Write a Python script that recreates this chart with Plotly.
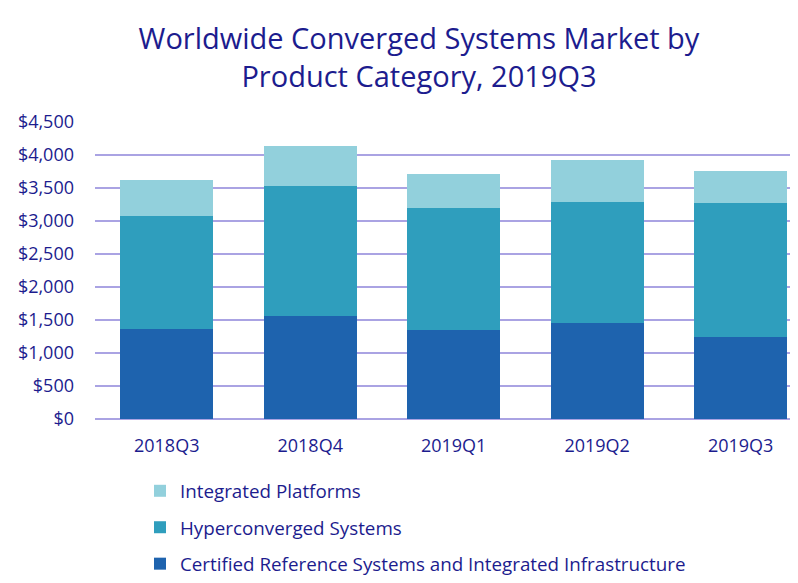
import plotly.graph_objects as go

# quarters on the x axis
quarters = ['2018Q3', '2018Q4', '2019Q1', '2019Q2', '2019Q3']

# revenue per product category ($M)
certified = [1370, 1567, 1355, 1461, 1249]
hyperconverged = [1699, 1957, 1835, 1820, 2017]
integrated = [546, 607, 516, 637, 486]

series_names = ['Certified Reference Systems and Integrated Infrastructure',
                'Hyperconverged Systems',
                'Integrated Platforms']
series_colors = ['#1e63ae', '#2f9ebd', '#92d0dc']
legend_ranks = [3, 2, 1]  # legend lists the top segment first

tick_vals = [0, 500, 1000, 1500, 2000, 2500, 3000, 3500, 4000, 4500]
tick_text = ['$0', '$500', '$1,000', '$1,500', '$2,000', '$2,500',
             '$3,000', '$3,500', '$4,000', '$4,500']

navy = '#1c1c8e'

fig = go.Figure()
for name, vals, col, rank in zip(series_names, [certified, hyperconverged, integrated],
                                 series_colors, legend_ranks):
    fig.add_trace(go.Bar(name=name, x=quarters, y=vals, marker_color=col,
                         marker_line_width=0, width=0.65,
                         legendgroup=name, legendrank=rank))

# page has an 8px body margin, so everything is offset a little
fig.update_layout(
    barmode='stack',
    width=798, height=583,
    margin=dict(l=87, r=8, t=114, b=172),
    paper_bgcolor='white', plot_bgcolor='white',
    font=dict(family='Open Sans', color=navy, size=18),
    title=dict(text='Worldwide Converged Systems Market by<br>Product Category, 2019Q3',
               x=0.515, xanchor='center', y=0.930, yanchor='top',
               font=dict(size=29, color=navy)),
    # legend placed against the container so it doesn't squash the plot
    legend=dict(orientation='v', traceorder='grouped', tracegroupgap=9,
                x=0.064, xanchor='left', yref='container', y=0.204, yanchor='top',
                font=dict(size=18.8, color=navy), itemwidth=30),
    xaxis=dict(range=[-0.5, 4.4], showgrid=False, showline=False, ticks='',
               ticklabelstandoff=14, tickfont=dict(size=18, color=navy)),
    yaxis=dict(range=[0, 4500], tickvals=tick_vals, ticktext=tick_text,
               showgrid=True, gridcolor='#aaa3e3', gridwidth=2,
               zeroline=True, zerolinecolor='#aaa3e3', zerolinewidth=2,
               ticks='', ticklabelstandoff=20, tickfont=dict(size=18, color=navy)),
)

fig.write_html("out.html")
